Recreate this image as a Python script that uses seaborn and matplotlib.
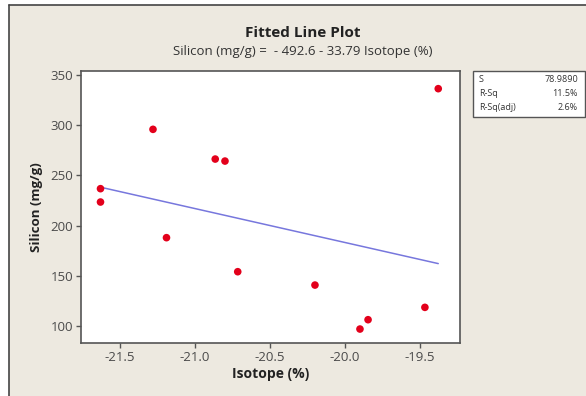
import matplotlib
matplotlib.use("Agg")
import matplotlib.pyplot as plt
import numpy as np
import pandas as pd
import seaborn as sns
from matplotlib.patches import Rectangle
from matplotlib.lines import Line2D

# ---- data ----
isotope = [-21.63, -21.63, -21.28, -21.19, -20.865, -20.80, -20.715,
           -20.20, -19.90, -19.846, -19.467, -19.378]
silicon = [236.8, 223.5, 295.9, 188.0, 266.3, 264.3, 154.1,
           140.8, 97.0, 106.3, 118.6, 336.4]
intercept = -492.6
slope = -33.79
stat_names = ["S", "R-Sq", "R-Sq(adj)"]
stat_values = ["78.9890", "11.5%", "2.6%"]
x_ticks = [-21.5, -21.0, -20.5, -20.0, -19.5]
y_ticks = [100, 150, 200, 250, 300, 350]

df = pd.DataFrame({"Isotope (%)": isotope, "Silicon (mg/g)": silicon})
xs = np.array([min(isotope), max(isotope)])
fit = pd.DataFrame({"x": xs, "y": intercept + slope * xs})

sns.set_theme(style="white")
plt.rcParams["font.family"] = ["Open Sans", "DejaVu Sans"]

W, H = 586, 396
fig = plt.figure(figsize=(W / 100, H / 100), dpi=100)
fig.patch.set_facecolor("white")

bg = "#EDE9E0"
fig.patches.append(Rectangle((9 / W, 0), 1 - 9 / W, 1 - 5 / H, transform=fig.transFigure,
                             facecolor=bg, edgecolor="none", zorder=-5))
fig.lines.append(Line2D([9 / W, 9 / W], [0, 1 - 5 / H], transform=fig.transFigure,
                        color="#444444", lw=1.2, zorder=-4))
fig.lines.append(Line2D([9 / W, 1], [1 - 5 / H, 1 - 5 / H], transform=fig.transFigure,
                        color="#444444", lw=1.2, zorder=-4))

ax = fig.add_axes([80.7 / W, 1 - 343.3 / H, (460 - 80.7) / W, (343.3 - 70.7) / H])
ax.set_zorder(1)
ax.set_facecolor("white")

sns.lineplot(data=fit, x="x", y="y", ax=ax, color="#7777DD", lw=1.1)
sns.scatterplot(data=df, x="Isotope (%)", y="Silicon (mg/g)", ax=ax,
                color="#E3001B", s=30, edgecolor="none", zorder=3)

ax.set_xlim(-21.762, -19.233)
ax.set_ylim(82.8, 354.3)
ax.set_xticks(x_ticks)
ax.set_xticklabels([f"{t:.1f}" for t in x_ticks])
ax.set_yticks(y_ticks)
ax.set_yticklabels([str(t) for t in y_ticks])
ax.tick_params(axis="both", direction="out", length=3.5, width=1, color="#555555",
               labelsize=9.5, labelcolor="#4A4A4A", pad=2,
               bottom=True, left=True)
for sp in ax.spines.values():
    sp.set_color("#555555")
    sp.set_linewidth(1.2)

ax.set_xlabel("Isotope (%)", fontsize=10, fontweight="bold", color="#222222", labelpad=2)
ax.set_ylabel("Silicon (mg/g)", fontsize=9.5, fontweight="bold", color="#222222", labelpad=5)

fig.text(303 / W, 1 - 33 / H, "Fitted Line Plot", ha="center", va="center",
         fontsize=11, fontweight="bold", color="#222222")
fig.text(303 / W, 1 - 52 / H, "Silicon (mg/g) =  - 492.6 - 33.79 Isotope (%)",
         ha="center", va="center", fontsize=9.5, color="#333333")

# stats box
fig.patches.append(Rectangle((472.7 / W, 1 - 117 / H), (584.5 - 472.7) / W, (117 - 71) / H,
                             transform=fig.transFigure, facecolor="white",
                             edgecolor="#555555", lw=1.0, zorder=2))
rows_y = [79.5, 94, 108]
for name, val, yy in zip(stat_names, stat_values, rows_y):
    fig.text(479 / W, 1 - yy / H, name, ha="left", va="center", fontsize=6.5,
             color="#333333", zorder=3)
    fig.text(578 / W, 1 - yy / H, val, ha="right", va="center", fontsize=6.5,
             color="#333333", zorder=3)

fig.savefig("out.png", dpi=100, facecolor=fig.get_facecolor())
